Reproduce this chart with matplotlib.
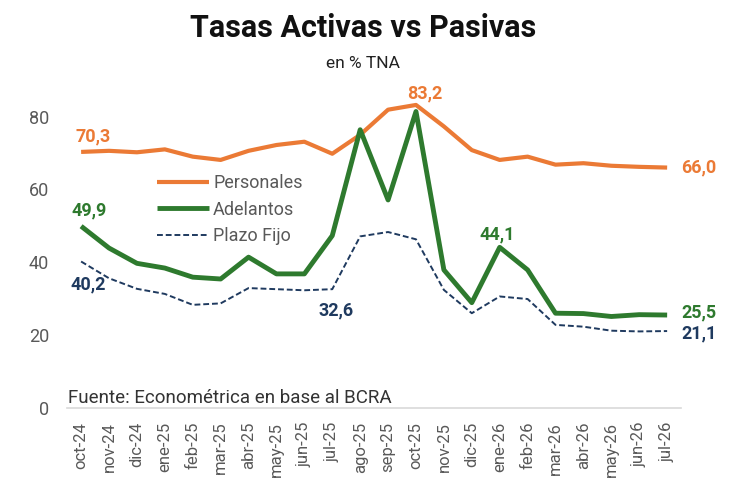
import matplotlib
matplotlib.use("Agg")
import matplotlib.pyplot as plt
from matplotlib import font_manager as fm

months = ["oct-24", "nov-24", "dic-24", "ene-25", "feb-25", "mar-25", "abr-25",
          "may-25", "jun-25", "jul-25", "ago-25", "sep-25", "oct-25", "nov-25",
          "dic-25", "ene-26", "feb-26", "mar-26", "abr-26", "may-26", "jun-26", "jul-26"]
personales = [70.3, 70.6, 70.2, 71.0, 69.0, 68.1, 70.6, 72.2, 73.1, 69.8, 75.0, 81.9,
              83.2, 77.3, 70.8, 68.1, 69.0, 66.8, 67.2, 66.5, 66.2, 66.0]
adelantos = [49.9, 43.9, 39.7, 38.4, 35.9, 35.4, 41.4, 36.8, 36.8, 47.3, 76.4, 57.1,
             81.4, 37.9, 28.9, 44.1, 37.9, 26.0, 25.9, 25.1, 25.6, 25.5]
plazo_fijo = [40.2, 35.6, 32.7, 31.3, 28.3, 28.7, 32.9, 32.6, 32.3, 32.6, 47.1, 48.3,
              46.3, 32.4, 26.0, 30.6, 29.9, 22.8, 22.3, 21.2, 21.0, 21.1]
yticks = [0, 20, 40, 60, 80]

names = {f.name for f in fm.fontManager.ttflist}
narrow = "Liberation Sans Narrow" if "Liberation Sans Narrow" in names else "Roboto"
FAM = ["Roboto", "DejaVu Sans"]
plt.rcParams['font.family'] = FAM

C_OR = "#EB7A35"
C_GR = "#2E7A2E"
C_BL = "#1F3A5F"
C_TX = "#595959"

fig = plt.figure(figsize=(7.3, 4.95), dpi=100)
ax = fig.add_axes([0.092, 0.176, 0.841, 0.662])
x = list(range(len(months)))
ax.plot(x, personales, color=C_OR, lw=3.0, label="Personales", solid_capstyle="butt")
ax.plot(x, adelantos, color=C_GR, lw=3.5, label="Adelantos", solid_capstyle="butt")
ax.plot(x, plazo_fijo, color=C_BL, lw=1.4, ls=(0, (3, 1.5)), label="Plazo Fijo")

ax.set_xlim(-0.5, len(months) - 0.5)
ax.set_ylim(0, 90)
ax.set_yticks(yticks)
ax.set_yticklabels([str(v) for v in yticks], color=C_TX, fontsize=13, family=FAM)
ax.set_xticks(x)
ax.set_xticklabels(months, rotation=90, color=C_TX, fontsize=12, family=FAM)
ax.tick_params(axis="both", length=0)
ax.tick_params(axis="y", pad=13)
ax.tick_params(axis="x", pad=10)
for s in ["top", "right", "left"]:
    ax.spines[s].set_visible(False)
ax.spines["bottom"].set_color("#D9D9D9")
ax.spines["bottom"].set_linewidth(1.2)

def fmt(v):
    return f"{v:.1f}".replace(".", ",")

lab = dict(fontsize=13, fontweight="bold", family=FAM)
ax.annotate(fmt(personales[0]), (0, personales[0]), xytext=(-4, 5), textcoords="offset points",
            ha="left", va="bottom", color=C_OR, **lab)
ax.annotate(fmt(adelantos[0]), (0, adelantos[0]), xytext=(-7, 5), textcoords="offset points",
            ha="left", va="bottom", color=C_GR, **lab)
ax.annotate(fmt(plazo_fijo[0]), (0, plazo_fijo[0]), xytext=(-8, -10), textcoords="offset points",
            ha="left", va="top", color=C_BL, **lab)
ax.annotate(fmt(plazo_fijo[9]), (9, plazo_fijo[9]), xytext=(3, -9), textcoords="offset points",
            ha="center", va="top", color=C_BL, **lab)
ax.annotate(fmt(personales[12]), (12, personales[12]), xytext=(6, 2), textcoords="offset points",
            ha="center", va="bottom", color=C_OR, **lab)
ax.annotate(fmt(adelantos[15]), (15, adelantos[15]), xytext=(-2, 3), textcoords="offset points",
            ha="center", va="bottom", color=C_GR, **lab)
n = len(months) - 1
ax.annotate(fmt(personales[n]), (n, personales[n]), xytext=(10, 0), textcoords="offset points",
            ha="left", va="center", color=C_OR, **lab)
ax.annotate(fmt(adelantos[n]), (n, adelantos[n]), xytext=(10, 2), textcoords="offset points",
            ha="left", va="center", color=C_GR, **lab)
ax.annotate(fmt(plazo_fijo[n]), (n, plazo_fijo[n]), xytext=(10, -2), textcoords="offset points",
            ha="left", va="center", color=C_BL, **lab)

leg = ax.legend(loc="upper left", bbox_to_anchor=(0.12, 0.763), frameon=False,
                handlelength=2.9, handletextpad=0.2, labelspacing=0.48,
                prop={"family": FAM, "size": 13})
for t in leg.get_texts():
    t.set_color(C_TX)

fig.text(0.497, 0.943, "Tasas Activas vs Pasivas", ha="center", va="center",
         fontsize=22, fontweight="bold", color="#111111", family=FAM)
fig.text(0.497, 0.872, "en % TNA", ha="center", va="center", fontsize=12.5, color="#222222",
         family=FAM)
fig.text(0.093, 0.196, "Fuente: Econométrica en base al BCRA", ha="left", va="center",
         fontsize=13.5, color="#333333", family=[narrow, "DejaVu Sans"])

fig.savefig("out.png", dpi=100)
